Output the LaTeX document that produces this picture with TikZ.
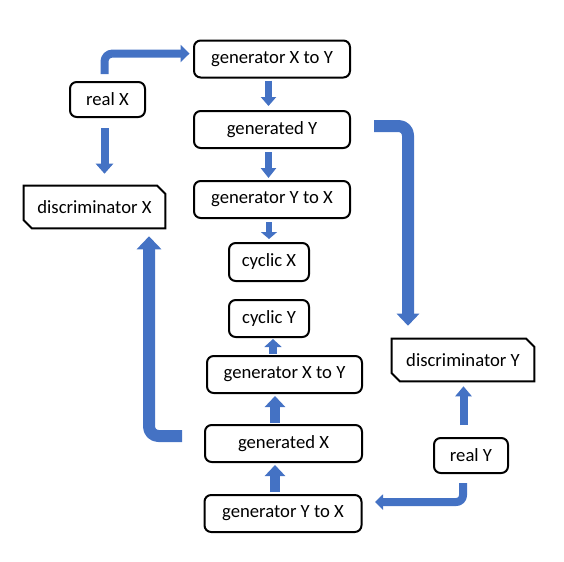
\documentclass[tikz,border=0pt]{standalone}
\usepackage{fontspec}
\setmainfont{Carlito}
\usetikzlibrary{arrows.meta}
\definecolor{flowblue}{HTML}{4472C4}
\tikzset{
  box/.style={draw, line width=1.5pt, rounded corners=5pt, fill=white, inner sep=0pt,
    font=\fontsize{14}{16}\selectfont, text=black},
  discnode/.style={inner sep=0pt, font=\fontsize{14}{16}\selectfont, text=black},
  chamf/.style={draw, line width=1.5pt, line join=miter},
  blockarrow/.style n args={3}{draw=flowblue, line width=#1, line join=round,
    -{Triangle[width=#2, length=#3]}},
}
\begin{document}
\begin{tikzpicture}[x=0.75pt, y=-0.75pt]
\useasboundingbox (0,0) rectangle (564,561);
% nodes
\node[box, minimum width=117pt, minimum height=27.75pt] (gxyA) at (272,59) {generator X to Y};
\node[box, minimum width=56.25pt, minimum height=26.25pt] (realX) at (107.5,99.5) {real X};
\node[box, minimum width=117pt, minimum height=27.75pt] (genY) at (272,129.5) {generated Y};
\node[box, minimum width=117pt, minimum height=27.75pt] (gyxA) at (272,199.5) {generator Y to X};
\node[discnode, minimum width=105.75pt, minimum height=31.5pt] (discX) at (94.5,207) {discriminator X};
\draw[chamf] (discX.north west) -- ([xshift=-6pt]discX.north east) -- ([yshift=-6pt]discX.north east)
  -- (discX.south east) -- ([xshift=6pt]discX.south west) -- ([yshift=6pt]discX.south west) -- cycle;
\node[box, minimum width=60pt, minimum height=28.5pt] (cycX) at (269,262) {cyclic X};
\node[box, minimum width=60pt, minimum height=27.75pt] (cycY) at (269,318.5) {cyclic Y};
\node[box, minimum width=116.25pt, minimum height=27.75pt] (gxyB) at (284.5,374.5) {generator X to Y};
\node[discnode, minimum width=106.5pt, minimum height=31.5pt] (discY) at (463,360) {discriminator Y};
\draw[chamf] (discY.north west) -- ([xshift=-6pt]discY.north east) -- ([yshift=-6pt]discY.north east)
  -- (discY.south east) -- ([xshift=6pt]discY.south west) -- ([yshift=6pt]discY.south west) -- cycle;
\node[box, minimum width=117.75pt, minimum height=27.75pt] (genX) at (283.5,443.5) {generated X};
\node[box, minimum width=55.5pt, minimum height=26.25pt] (realY) at (471,455.5) {real Y};
\node[box, minimum width=117.75pt, minimum height=27.75pt] (gyxB) at (283,513.5) {generator Y to X};
% arrows
\draw[blockarrow={6pt}{12.75pt}{6.75pt}, rounded corners=6pt]
  ([xshift=-2.25pt, yshift=5.25pt]realX.north) |- ([xshift=-2.6pt, yshift=4.1pt]gxyA.west);
\draw[blockarrow={5.25pt}{11.25pt}{6.75pt}]
  ([xshift=-2.625pt, yshift=-1.5pt]gxyA.south) -- ([xshift=-2.625pt, yshift=3pt]genY.north);
\draw[blockarrow={5.25pt}{11.25pt}{7.5pt}]
  ([xshift=-2.625pt, yshift=-2.25pt]genY.south) -- ([xshift=-2.625pt, yshift=1.5pt]gyxA.north);
\draw[blockarrow={4.5pt}{12pt}{5.25pt}]
  ([xshift=-2.25pt, yshift=-2.25pt]gyxA.south) -- ([yshift=2.25pt]cycX.north);
\draw[blockarrow={6pt}{12.75pt}{7.5pt}]
  ([xshift=-2.25pt, yshift=-7.5pt]realX.south) -- ([xshift=7.5pt, yshift=9pt]discX.north);
\draw[blockarrow={9pt}{16.5pt}{9pt}, rounded corners=7pt]
  ([xshift=17.25pt, yshift=2.625pt]genY.east) -| ([xshift=-41.25pt, yshift=9.75pt]discY.north);
\draw[blockarrow={9pt}{18pt}{9.75pt}, rounded corners=7pt]
  ([xshift=-16.5pt, yshift=5.625pt]genX.west) -| ([xshift=40.9pt, yshift=-6pt]discX.south);
\draw[blockarrow={6pt}{12.75pt}{6pt}]
  ([xshift=-8.625pt, yshift=0.75pt]gxyB.north) -- ([xshift=3pt, yshift=-0.75pt]cycY.south);
\draw[blockarrow={7.5pt}{15pt}{8.25pt}]
  ([xshift=-6.375pt, yshift=0.75pt]genX.north) -- ([xshift=-7.125pt, yshift=-1.5pt]gxyB.south);
\draw[blockarrow={7.5pt}{15pt}{8.25pt}]
  ([xshift=-6pt, yshift=1.5pt]gyxB.north) -- ([xshift=-6.375pt, yshift=-1.5pt]genX.south);
\draw[blockarrow={6pt}{12pt}{7.5pt}]
  ([xshift=-5.625pt, yshift=9pt]realY.north) -- ([xshift=0.375pt, yshift=-3.75pt]discY.south);
\draw[blockarrow={6pt}{11.25pt}{6pt}, rounded corners=5pt]
  ([xshift=-6pt, yshift=-6.75pt]realY.south) |- ([xshift=9.375pt, yshift=8.625pt]gyxB.east);
\end{tikzpicture}
\end{document}
